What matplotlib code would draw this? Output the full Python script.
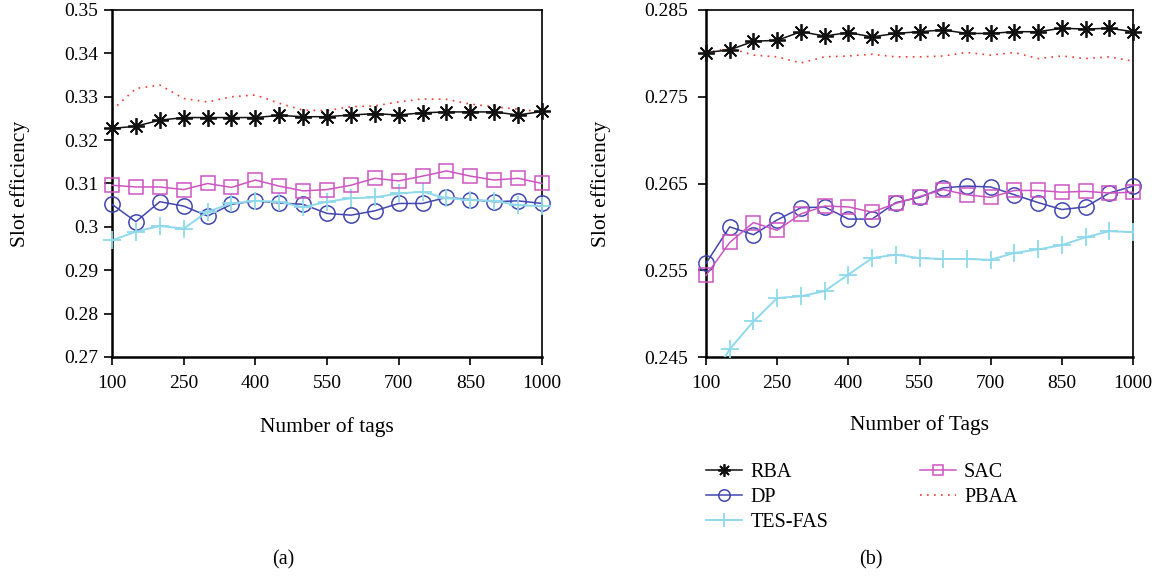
import matplotlib.pyplot as plt
from matplotlib.ticker import FuncFormatter

plt.rcParams['font.family'] = ['Liberation Serif', 'DejaVu Serif']
plt.rcParams['font.size'] = 14

tags = [100, 150, 200, 250, 300, 350, 400, 450, 500, 550,
        600, 650, 700, 750, 800, 850, 900, 950, 1000]
xticks = [100, 250, 400, 550, 700, 850, 1000]

# (a) slot efficiency vs number of tags
rba_a = [0.3227, 0.3232, 0.3246, 0.3252, 0.3252, 0.3252, 0.3252, 0.3257, 0.3254, 0.3254,
         0.3258, 0.3261, 0.3258, 0.3263, 0.3265, 0.3265, 0.3265, 0.3258, 0.3266]
dp_a = [0.3052, 0.3012, 0.3058, 0.3048, 0.3025, 0.3052, 0.3060, 0.3055, 0.3052, 0.3031,
        0.3027, 0.3037, 0.3054, 0.3054, 0.3068, 0.3063, 0.3058, 0.3060, 0.3054]
tes_a = [0.2969, 0.2989, 0.3002, 0.2996, 0.3035, 0.3054, 0.3060, 0.3058, 0.3045, 0.3058,
         0.3066, 0.3068, 0.3077, 0.3081, 0.3066, 0.3062, 0.3060, 0.3050, 0.3048]
sac_a = [0.3096, 0.3092, 0.3092, 0.3086, 0.3100, 0.3091, 0.3108, 0.3094, 0.3083, 0.3086,
         0.3096, 0.3112, 0.3106, 0.3117, 0.3129, 0.3117, 0.3108, 0.3112, 0.3100]
pbaa_a = [0.3269, 0.3319, 0.3327, 0.3296, 0.3288, 0.3300, 0.3304, 0.3285, 0.3269, 0.3268,
          0.3277, 0.3279, 0.3288, 0.3295, 0.3294, 0.3283, 0.3277, 0.3271, 0.3265]

# (b)
rba_b = [0.2801, 0.2804, 0.2814, 0.2815, 0.2825, 0.2820, 0.2824, 0.2819, 0.2823, 0.2825,
         0.2827, 0.2823, 0.2823, 0.2825, 0.2825, 0.2829, 0.2828, 0.2829, 0.2825]
dp_b = [0.2558, 0.2600, 0.2591, 0.2608, 0.2622, 0.2623, 0.2609, 0.2609, 0.2628, 0.2634,
        0.2645, 0.2647, 0.2646, 0.2637, 0.2628, 0.2620, 0.2623, 0.2639, 0.2647]
tes_b = [0.2415, 0.2459, 0.2491, 0.2518, 0.2520, 0.2526, 0.2545, 0.2564, 0.2568, 0.2564,
         0.2563, 0.2563, 0.2562, 0.2570, 0.2574, 0.2579, 0.2588, 0.2595, 0.2594]
sac_b = [0.2544, 0.2582, 0.2605, 0.2596, 0.2615, 0.2624, 0.2623, 0.2617, 0.2627, 0.2635,
         0.2643, 0.2637, 0.2634, 0.2642, 0.2642, 0.2640, 0.2641, 0.2639, 0.2640]
pbaa_b = [0.2801, 0.2806, 0.2798, 0.2796, 0.2789, 0.2796, 0.2797, 0.2799, 0.2796, 0.2796,
          0.2797, 0.2801, 0.2798, 0.2801, 0.2794, 0.2797, 0.2794, 0.2796, 0.2791]

c_rba = "#111111"
c_dp = "#4146b0"
c_tes = "#8fd9eb"
c_sac = "#cc55c2"
c_pbaa = "#ee3b2b"

W, H = 1161, 577
fig = plt.figure(figsize=(W / 100, H / 100), dpi=100)
ax1 = fig.add_axes([112 / W, 1 - 357 / H, 430 / W, 347 / H])
ax2 = fig.add_axes([706 / W, 1 - 357 / H, 427 / W, 347 / H])


def draw(ax, rba, dp, tes, sac, pbaa, tes_clip):
    ax.plot(tags, rba, color=c_rba, lw=1.1, marker=(8, 2, 0), ms=12, mew=1.3,
            clip_on=False, zorder=4, label="RBA")
    ax.plot(tags, dp, color=c_dp, lw=1.1, marker="o", ms=11, mfc="none", mew=1.1,
            clip_on=False, zorder=3, label="DP")
    ax.plot(tags, tes, color=c_tes, lw=1.4, marker="+", ms=13, mew=1.3,
            clip_on=tes_clip, zorder=3, label="TES-FAS")
    ax.plot(tags, sac, color=c_sac, lw=1.1, marker="s", ms=10, mfc="none", mew=1.1,
            clip_on=False, zorder=3, label="SAC")
    ax.plot(tags, pbaa, color=c_pbaa, lw=1.2, ls=(0, (1, 3.2)),
            clip_on=False, zorder=2, label="PBAA")
    ax.set_xlim(100, 1000)
    ax.set_xticks(xticks)
    ax.yaxis.set_major_formatter(FuncFormatter(lambda v, p: "%g" % round(v, 4)))
    ax.tick_params(direction="out", length=6, width=1.2)
    for s in ["left", "bottom"]:
        ax.spines[s].set_linewidth(1.8)
    for s in ["top", "right"]:
        ax.spines[s].set_linewidth(1.2)


draw(ax1, rba_a, dp_a, tes_a, sac_a, pbaa_a, False)
ax1.set_ylim(0.27, 0.35)
ax1.set_yticks([0.27, 0.28, 0.29, 0.30, 0.31, 0.32, 0.33, 0.34, 0.35])
ax1.tick_params(axis="y", pad=4)
ax1.tick_params(axis="x", pad=7)
ax1.set_xlabel("Number of tags", fontsize=15.5)
ax1.xaxis.set_label_coords(0.5, -0.172)
ax1.set_ylabel("Slot efficiency", fontsize=15.5)
ax1.yaxis.set_label_coords(-0.19, 0.5)

draw(ax2, rba_b, dp_b, tes_b, sac_b, pbaa_b, True)
ax2.set_ylim(0.245, 0.285)
ax2.set_yticks([0.245, 0.255, 0.265, 0.275, 0.285])
ax2.tick_params(axis="y", pad=7)
ax2.tick_params(axis="x", pad=7)
ax2.set_xlabel("Number of Tags", fontsize=15.5)
ax2.xaxis.set_label_coords(0.5, -0.167)
ax2.set_ylabel("Slot efficiency", fontsize=15.5)
ax2.yaxis.set_label_coords(-0.222, 0.5)

handles, labels = ax2.get_legend_handles_labels()
ax2.legend(handles, labels, ncol=2, frameon=False, loc="upper left",
           bbox_to_anchor=(706 / W, 1 - 463 / H), bbox_transform=fig.transFigure,
           borderpad=0, borderaxespad=0, handlelength=1.8, handletextpad=0.4,
           labelspacing=0.3, columnspacing=4.55, markerscale=0.75, fontsize=14.5)

fig.text(283 / W, 1 - 560 / H, "(a)", ha="center", va="center", fontsize=14.5)
fig.text(871 / W, 1 - 560 / H, "(b)", ha="center", va="center", fontsize=14.5)

fig.savefig("out.png", dpi=100)
